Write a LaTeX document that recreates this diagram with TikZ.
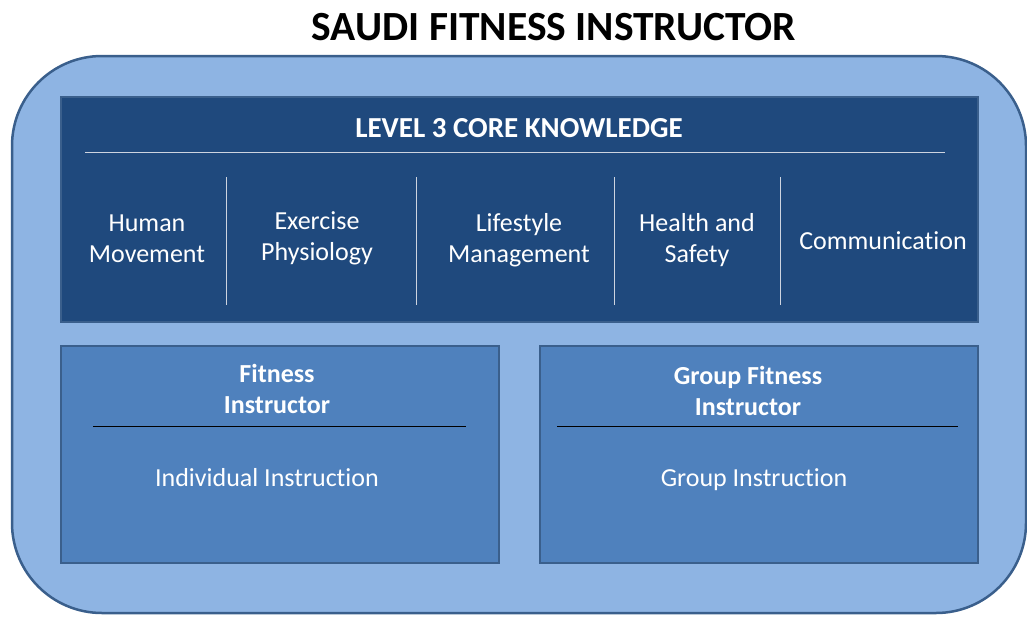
\documentclass[tikz,border=0pt]{standalone}
\usepackage{fontspec}
\setmainfont{Carlito}[RawFeature=-liga]
\usetikzlibrary{positioning}

\definecolor{paleblue}{RGB}{142,180,227}
\definecolor{rimblue}{RGB}{58,95,140}
\definecolor{darkblue}{RGB}{31,73,125}
\definecolor{midblue}{RGB}{79,129,189}
\definecolor{rulegray}{RGB}{205,212,224}

\begin{document}
\begin{tikzpicture}[x=1pt,y=-1pt,
		txt/.style={text=white,align=center,inner sep=0pt,font=\fontsize{26}{31}\selectfont},
		headtxt/.style={txt,font=\fontsize{26}{31}\selectfont\bfseries}]
	
	\useasboundingbox (0,0) rectangle (1027,616);
	
	% title
	\node (title) at (554,27) {\fontsize{41.5}{48}\selectfont\bfseries SAUDI FITNESS INSTRUCTOR};
	
	% outer frame
	\draw[rimblue,line width=2.5pt,fill=paleblue,rounded corners=90pt] (12,56) rectangle (1026,613);
	
	% core knowledge block
	\draw[rimblue,line width=2pt,fill=darkblue] (61,97) rectangle (978,322);
	\node[headtxt,font=\fontsize{29}{34}\selectfont\bfseries] (core) at (519,128) {LEVEL 3 CORE KNOWLEDGE};
	\draw[rulegray,line width=1pt] (85,152) -- (945,152);
	
	\foreach \x in {226,416,614,780}
		\draw[rulegray,line width=1pt] (\x,177) -- (\x,305);
	
	\node[txt] (move) at (147,239) {Human\\Movement};
	\node[txt] (phys) at (317,238) {Exercise\\Physiology};
	\node[txt] (life) at (519,240) {Lifestyle\\Management};
	\node[txt] (safe) at (697,240) {Health and\\Safety};
	\node[txt] (comm) at (883,241) {Communication};
	
	% instructor blocks
	\draw[rimblue,line width=2pt,fill=midblue] (61,346) rectangle (499,563);
	\draw[rimblue,line width=2pt,fill=midblue] (540,346) rectangle (978,563);
	
	\node[headtxt] (fit) at (277,389) {Fitness\\Instructor};
	\node[headtxt] (grp) at (748,391) {Group Fitness\\Instructor};
	\draw[black,line width=1pt] (93,426) -- (466,426);
	\draw[black,line width=1pt] (557,426) -- (958,426);
	
	\node[txt] (indiv) at (267,478) {Individual Instruction};
	\node[txt] (group) at (754,480) {Group Instruction};
	
\end{tikzpicture}
\end{document}
